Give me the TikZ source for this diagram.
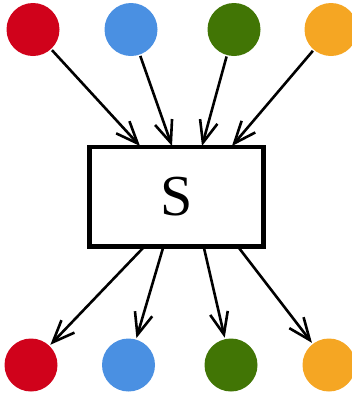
\documentclass[tikz,border=0pt]{standalone}
\usepackage{fontspec}
\setmainfont{Liberation Serif}
\usetikzlibrary{arrows.meta}
\definecolor{cred}{HTML}{D0021B}
\definecolor{cblue}{HTML}{4A90E2}
\definecolor{cgreen}{HTML}{417505}
\definecolor{corange}{HTML}{F5A623}
\tikzset{
  dot/.style={circle, fill=#1, draw=none, minimum size=53pt, inner sep=0pt, outer sep=1.5pt},
  sysbox/.style={draw=black, line width=4.5pt, minimum width=174pt, minimum height=99.5pt, inner sep=0pt,
    font=\fontsize{58}{60}\selectfont},
  flow/.style={line width=2.6pt, -{Straight Barb[length=22pt,width=18pt,line width=2.6pt]}},
}
\begin{document}
\begin{tikzpicture}[x=1pt,y=-1pt]
\useasboundingbox (0,0) rectangle (352,394);
% sources
\node[dot=cred]    (r1) at (33,29.5) {};
\node[dot=cblue]   (b1) at (131,29.5) {};
\node[dot=cgreen]  (g1) at (234,29.5) {};
\node[dot=corange] (o1) at (331,29.5) {};
% system
\node[sysbox] (S) at (176.5,196.75) {S};
% sinks
\node[dot=cred]    (r2) at (31,365) {};
\node[dot=cblue]   (b2) at (128.5,365) {};
\node[dot=cgreen]  (g2) at (231,365) {};
\node[dot=corange] (o2) at (329,365) {};
% ports on the box border
\coordinate (i1) at (140,146);
\coordinate (i2) at (172,146);
\coordinate (i3) at (202,146);
\coordinate (i4) at (232,146);
\coordinate (u1) at (143,248);
\coordinate (u2) at (163,248);
\coordinate (u3) at (204,248);
\coordinate (u4) at (239,248);
% inflows
\draw[flow] (r1) -- (i1);
\draw[flow] (b1) -- (i2);
\draw[flow] (g1) -- (i3);
\draw[flow] (o1) -- (i4);
% outflows
\draw[flow] (u1) -- (r2);
\draw[flow] (u2) -- (b2);
\draw[flow] (u3) -- (g2);
\draw[flow] (u4) -- (o2);
\end{tikzpicture}
\end{document}
